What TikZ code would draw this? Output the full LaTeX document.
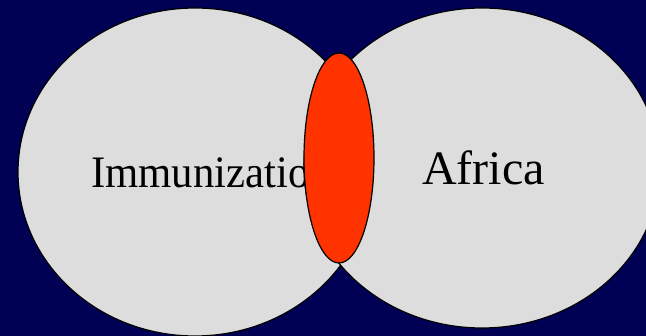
\documentclass[tikz,border=0pt]{standalone}
\usepackage{fontspec}
\usepackage{graphicx}
\setmainfont{Liberation Serif}
\definecolor{navy}{HTML}{000055}
\definecolor{setgray}{HTML}{DDDDDD}
\definecolor{overlapred}{HTML}{FF3300}
\begin{document}
\begin{tikzpicture}[x=1pt,y=-1pt,
  setshape/.style={draw=black,line width=1.2pt,fill=setgray},
  overlap/.style={draw=black,line width=1.2pt,fill=overlapred},
  lbl/.style={anchor=base west,inner sep=0pt,text=black}]
\fill[navy] (0,0) rectangle (646,336);
\useasboundingbox (0,0) rectangle (646,336);
\begin{scope}
\clip (0,0) rectangle (646,336);
\draw[setshape] (195,172) ellipse [x radius=177,y radius=164];
\draw[setshape] (482,168) ellipse [x radius=178,y radius=160];
\node[lbl,font=\fontsize{45}{50}\selectfont] (imm) at (91,188) {\scalebox{0.95}[1]{Immunization}};
\node[lbl,font=\fontsize{48}{54}\selectfont] (afr) at (422,185) {Africa};
\draw[overlap] (339,158) ellipse [x radius=35,y radius=105];
\end{scope}
\end{tikzpicture}
\end{document}
